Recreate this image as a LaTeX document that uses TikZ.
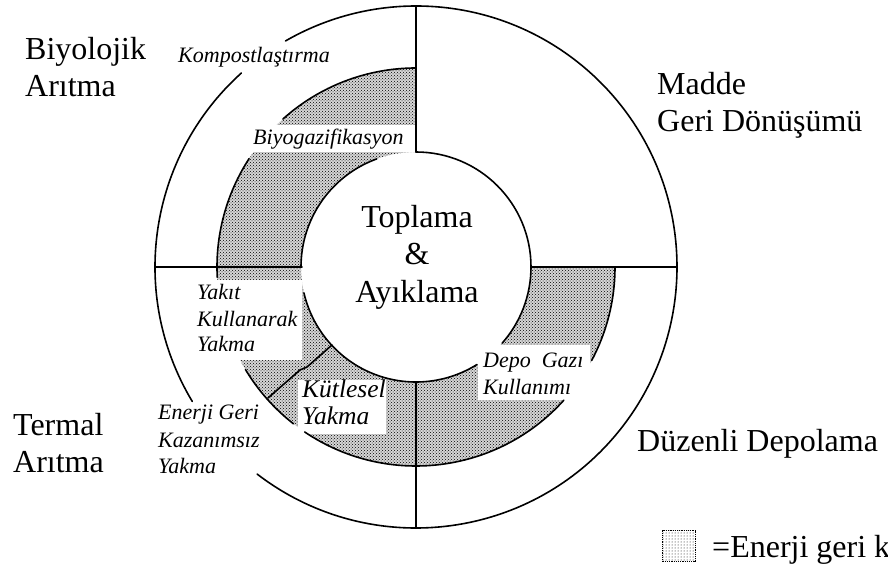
\documentclass[tikz,border=0pt]{standalone}
\usepackage{fontspec}
\setmainfont{Liberation Serif}
\usetikzlibrary{patterns}
\tikzset{
  ring/.style={line width=1.6pt, line cap=round},
  stip/.style={pattern=crosshatch dots, pattern color=black},
  biglbl/.style={inner sep=0pt, anchor=base west, font=\fontsize{32}{38}\selectfont},
  ctrlbl/.style={inner sep=0pt, anchor=base, font=\fontsize{32}{38}\selectfont},
  itlbl/.style={inner sep=0pt, anchor=base west, font=\fontsize{22}{26}\selectfont\itshape},
  itbig/.style={inner sep=0pt, anchor=base west, font=\fontsize{25.5}{30}\selectfont\itshape},
}
\begin{document}
\begin{tikzpicture}[x=1pt,y=1pt]
\useasboundingbox (-416,-305) rectangle (472,267);
\coordinate (C) at (0,0);
% shading of the energy-recovery ring
\fill[black!16] (90:199) arc[start angle=90,end angle=360,radius=199] -- (0:115) arc[start angle=360,end angle=90,radius=115] -- cycle;
\fill[stip] (90:199) arc[start angle=90,end angle=360,radius=199] -- (0:115) arc[start angle=360,end angle=90,radius=115] -- cycle;
% white areas behind the ring labels
\fill[white] (-166,115) rectangle (-1,142);
\fill[white] (-221,-13) rectangle (-114,-93);
\fill[white] (-118,-113) rectangle (-30,-167);
\fill[white] (62,-78) rectangle (174,-133);
% outer circle
\draw[ring] (0:261) arc[start angle=0,end angle=120,radius=261];
\draw[ring] (132:261) arc[start angle=132,end angle=211,radius=261];
\draw[ring] (232.5:261) arc[start angle=232.5,end angle=360,radius=261];
% middle circle
\draw[ring] (90:199) arc[start angle=90,end angle=132,radius=199];
\draw[ring] (147:199) arc[start angle=147,end angle=183,radius=199];
\draw[ring] (211:199) arc[start angle=211,end angle=232,radius=199];
\draw[ring] (236:199) arc[start angle=236,end angle=318,radius=199];
\draw[ring] (332:199) arc[start angle=332,end angle=360,radius=199];
% inner circle
\draw[ring] (0:115) arc[start angle=0,end angle=90,radius=115];
\draw[ring] (110:115) arc[start angle=110,end angle=180,radius=115];
\draw[ring] (193:115) arc[start angle=193,end angle=302,radius=115];
\draw[ring] (318.5:115) arc[start angle=318.5,end angle=360,radius=115];
% radial dividers
\draw[ring] (90:115) -- (90:261);
\draw[ring] (0:115) -- (0:261);
\draw[ring] (270:115) -- (270:261);
\draw[ring] (180:261) -- (180:114);
\draw[ring] (-84,-78) -- (-109,-100) -- (-116,-103) -- (-148,-131);
% centre
\node[ctrlbl] (top1) at (1,39) {Toplama};
\node[ctrlbl] (top2) at (1,2) {\&};
\node[ctrlbl] (top3) at (1,-36) {Ayıklama};
% sector labels
\node[biglbl] (bio1) at (-391,207) {Biyolojik};
\node[biglbl] (bio2) at (-391,170) {Arıtma};
\node[biglbl] (mad1) at (241,172) {Madde};
\node[biglbl] (mad2) at (241,135) {Geri Dönüşümü};
\node[biglbl] (ter1) at (-403,-168) {Termal};
\node[biglbl] (ter2) at (-403,-205) {Arıtma};
\node[biglbl] (duz) at (221,-185) {Düzenli Depolama};
% ring labels
\node[itlbl] (komp) at (-238,204) {Kompostlaştırma};
\node[itlbl] (biyo) at (-163,122) {Biyogazifikasyon};
\node[itlbl] (yak1) at (-219,-33) {Yakıt};
\node[itlbl] (yak2) at (-219,-60) {Kullanarak};
\node[itlbl] (yak3) at (-219,-85) {Yakma};
\node[itlbl] (ene1) at (-258,-153) {Enerji Geri};
\node[itlbl] (ene2) at (-258,-180) {Kazanımsız};
\node[itlbl] (ene3) at (-258,-206) {Yakma};
\node[itbig] (kut1) at (-114,-131) {Kütlesel};
\node[itbig] (kut2) at (-114,-158) {Yakma};
\node[itlbl] (dep1) at (67,-101) {Depo\ \ Gazı};
\node[itlbl] (dep2) at (67,-128) {Kullanımı};
% legend
\node[draw, densely dotted, line width=1.2pt, minimum width=33pt, minimum height=31pt, inner sep=0pt, pattern=dots] (legbox) at (263,-279) {};
\node[biglbl] (legtxt) at (296,-290) {=Enerji geri kazanımı};
\end{tikzpicture}
\end{document}
